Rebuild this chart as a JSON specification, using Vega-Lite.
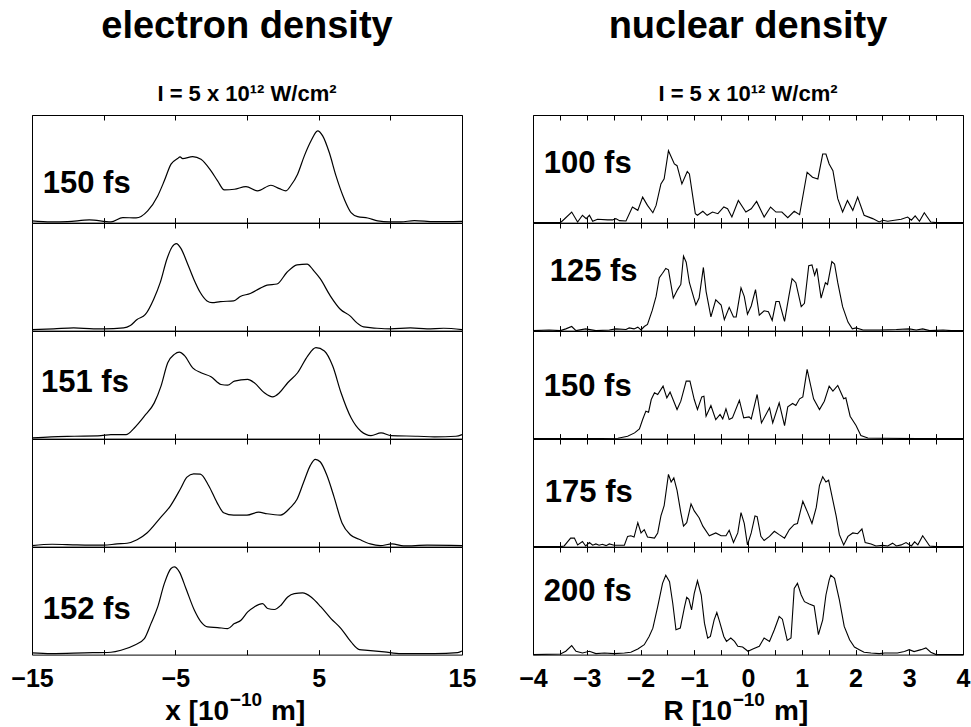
{
  "$schema": "https://vega.github.io/schema/vega-lite/v6.json",
  "padding": {"left": 10, "top": 7, "right": 0, "bottom": 0},
  "background": "white",
  "datasets": {
    "electron": [
      {"row":1,"x":-15,"h":1.6},{"row":1,"x":-13.67,"h":0.6},{"row":1,"x":-12.51,"h":0.9},{"row":1,"x":-11.0,"h":2.5},{"row":1,"x":-9.49,"h":0.6},{"row":1,"x":-8.67,"h":4.7},{"row":1,"x":-7.74,"h":4.3},{"row":1,"x":-6.93,"h":10.9},{"row":1,"x":-6.23,"h":24.8},{"row":1,"x":-5.77,"h":38.8},{"row":1,"x":-5.30,"h":54.3},{"row":1,"x":-4.84,"h":59.5},{"row":1,"x":-4.67,"h":61.1},{"row":1,"x":-4.49,"h":59.5},{"row":1,"x":-3.79,"h":61.4},{"row":1,"x":-3.21,"h":58.9},{"row":1,"x":-2.51,"h":48.1},{"row":1,"x":-2.05,"h":38.8},{"row":1,"x":-1.58,"h":30.4},{"row":1,"x":-0.88,"h":31.0},{"row":1,"x":-0.07,"h":33.5},{"row":1,"x":0.74,"h":29.5},{"row":1,"x":1.67,"h":34.7},{"row":1,"x":2.26,"h":31.6},{"row":1,"x":2.72,"h":29.5},{"row":1,"x":3.07,"h":34.7},{"row":1,"x":3.53,"h":45.0},{"row":1,"x":4.0,"h":62},{"row":1,"x":4.47,"h":76},{"row":1,"x":4.93,"h":85.3},{"row":1,"x":5.28,"h":80.6},{"row":1,"x":5.74,"h":65.1},{"row":1,"x":6.21,"h":43.4},{"row":1,"x":6.79,"h":21.7},{"row":1,"x":7.26,"h":9.3},{"row":1,"x":7.72,"h":5.6},{"row":1,"x":8.42,"h":4.3},{"row":1,"x":9.12,"h":1.6},{"row":1,"x":9.93,"h":0.6},{"row":1,"x":10.74,"h":0.6},{"row":1,"x":11.67,"h":1.9},{"row":1,"x":13.07,"h":0.9},{"row":1,"x":15.0,"h":1.2},
      {"row":2,"x":-15,"h":0.9},{"row":2,"x":-13.49,"h":1.6},{"row":2,"x":-12.09,"h":2.5},{"row":2,"x":-10.70,"h":1.6},{"row":2,"x":-10.0,"h":1.6},{"row":2,"x":-8.60,"h":2.5},{"row":2,"x":-8.14,"h":4.7},{"row":2,"x":-7.67,"h":10.3},{"row":2,"x":-7.09,"h":15},{"row":2,"x":-6.51,"h":29.2},{"row":2,"x":-6.05,"h":44.8},{"row":2,"x":-5.58,"h":66.8},{"row":2,"x":-5.23,"h":77.7},{"row":2,"x":-4.93,"h":80.9},{"row":2,"x":-4.60,"h":76.2},{"row":2,"x":-4.19,"h":63.6},{"row":2,"x":-3.72,"h":48},{"row":2,"x":-3.26,"h":35.4},{"row":2,"x":-2.79,"h":27.6},{"row":2,"x":-2.44,"h":26},{"row":2,"x":-1.86,"h":27},{"row":2,"x":-0.93,"h":27.6},{"row":2,"x":-0.47,"h":31.7},{"row":2,"x":0.23,"h":34.5},{"row":2,"x":0.93,"h":39.5},{"row":2,"x":1.40,"h":42.3},{"row":2,"x":2.09,"h":43.3},{"row":2,"x":2.79,"h":54.2},{"row":2,"x":3.49,"h":61.1},{"row":2,"x":4.19,"h":61.8},{"row":2,"x":4.65,"h":55.8},{"row":2,"x":5.12,"h":48},{"row":2,"x":5.81,"h":32.3},{"row":2,"x":6.51,"h":19.8},{"row":2,"x":7.21,"h":13.5},{"row":2,"x":7.67,"h":7.2},{"row":2,"x":8.14,"h":3.4},{"row":2,"x":9.07,"h":2.2},{"row":2,"x":10.0,"h":1.6},{"row":2,"x":11.40,"h":2.5},{"row":2,"x":12.56,"h":1.6},{"row":2,"x":13.72,"h":2.2},{"row":2,"x":15,"h":0.9},
      {"row":3,"x":-15,"h":0.6},{"row":3,"x":-13.67,"h":1.6},{"row":3,"x":-12.05,"h":2.2},{"row":3,"x":-10.19,"h":2.8},{"row":3,"x":-9.49,"h":3.7},{"row":3,"x":-8.44,"h":3.7},{"row":3,"x":-7.86,"h":9.9},{"row":3,"x":-7.16,"h":20.8},{"row":3,"x":-6.47,"h":33.2},{"row":3,"x":-6.0,"h":48.8},{"row":3,"x":-5.53,"h":70.5},{"row":3,"x":-5.07,"h":78.3},{"row":3,"x":-4.72,"h":80.4},{"row":3,"x":-4.37,"h":77.3},{"row":3,"x":-3.79,"h":65.8},{"row":3,"x":-3.21,"h":61.2},{"row":3,"x":-2.51,"h":57.5},{"row":3,"x":-1.81,"h":50.3},{"row":3,"x":-1.35,"h":49.7},{"row":3,"x":-0.88,"h":53.4},{"row":3,"x":0.05,"h":55},{"row":3,"x":0.51,"h":51.9},{"row":3,"x":1.21,"h":42.6},{"row":3,"x":1.79,"h":38.8},{"row":3,"x":2.26,"h":42.6},{"row":3,"x":2.84,"h":51.9},{"row":3,"x":3.53,"h":61.2},{"row":3,"x":4.23,"h":76.7},{"row":3,"x":4.81,"h":84.5},{"row":3,"x":5.40,"h":81.4},{"row":3,"x":5.98,"h":67.4},{"row":3,"x":6.56,"h":42.6},{"row":3,"x":7.26,"h":19.3},{"row":3,"x":7.95,"h":6.8},{"row":3,"x":8.65,"h":2.8},{"row":3,"x":9.35,"h":5.3},{"row":3,"x":10.05,"h":2.8},{"row":3,"x":11.91,"h":2.2},{"row":3,"x":13.07,"h":1.6},{"row":3,"x":14.58,"h":2.2},{"row":3,"x":15,"h":3.7},
      {"row":4,"x":-15,"h":0.9},{"row":4,"x":-13.6,"h":2.2},{"row":4,"x":-11.86,"h":1.6},{"row":4,"x":-10,"h":1.3},{"row":4,"x":-9.07,"h":2.5},{"row":4,"x":-8.37,"h":3.1},{"row":4,"x":-7.67,"h":6.3},{"row":4,"x":-6.98,"h":12.6},{"row":4,"x":-6.05,"h":26.7},{"row":4,"x":-5.35,"h":37.7},{"row":4,"x":-4.65,"h":53.5},{"row":4,"x":-4.19,"h":64.5},{"row":4,"x":-3.72,"h":67.6},{"row":4,"x":-3.26,"h":67.3},{"row":4,"x":-2.67,"h":56.6},{"row":4,"x":-2.09,"h":40.9},{"row":4,"x":-1.63,"h":31.5},{"row":4,"x":-0.93,"h":29.2},{"row":4,"x":0,"h":29.2},{"row":4,"x":0.81,"h":32},{"row":4,"x":1.40,"h":30.5},{"row":4,"x":2.33,"h":29.2},{"row":4,"x":3.02,"h":36.2},{"row":4,"x":3.49,"h":44},{"row":4,"x":3.95,"h":59.8},{"row":4,"x":4.42,"h":75.5},{"row":4,"x":4.77,"h":81.1},{"row":4,"x":5.12,"h":78.6},{"row":4,"x":5.58,"h":66},{"row":4,"x":6.05,"h":47.2},{"row":4,"x":6.63,"h":22},{"row":4,"x":7.21,"h":11},{"row":4,"x":7.91,"h":6.3},{"row":4,"x":8.60,"h":2.5},{"row":4,"x":9.30,"h":0.9},{"row":4,"x":10.12,"h":2.5},{"row":4,"x":10.93,"h":0.6},{"row":4,"x":12.56,"h":1.3},{"row":4,"x":15,"h":0.9},
      {"row":5,"x":-15,"h":1.6},{"row":5,"x":-13.67,"h":0.9},{"row":5,"x":-11.35,"h":1.6},{"row":5,"x":-9.49,"h":2.2},{"row":5,"x":-8.79,"h":4},{"row":5,"x":-7.86,"h":8.7},{"row":5,"x":-7.16,"h":14.9},{"row":5,"x":-6.70,"h":28.8},{"row":5,"x":-6.23,"h":44.3},{"row":5,"x":-5.77,"h":66},{"row":5,"x":-5.30,"h":80},{"row":5,"x":-5.07,"h":81.5},{"row":5,"x":-4.72,"h":76.9},{"row":5,"x":-4.26,"h":61.4},{"row":5,"x":-3.67,"h":41.2},{"row":5,"x":-3.21,"h":30.4},{"row":5,"x":-2.74,"h":25.7},{"row":5,"x":-2.05,"h":25.1},{"row":5,"x":-1.35,"h":24.2},{"row":5,"x":-0.88,"h":28.8},{"row":5,"x":-0.42,"h":31.9},{"row":5,"x":0.05,"h":39.7},{"row":5,"x":0.51,"h":44.3},{"row":5,"x":1.09,"h":47.4},{"row":5,"x":1.44,"h":42.8},{"row":5,"x":1.91,"h":41.9},{"row":5,"x":2.37,"h":45.9},{"row":5,"x":2.84,"h":53.6},{"row":5,"x":3.30,"h":56.7},{"row":5,"x":3.88,"h":57.4},{"row":5,"x":4.47,"h":53.6},{"row":5,"x":5.16,"h":44.3},{"row":5,"x":5.86,"h":33.5},{"row":5,"x":6.56,"h":24.2},{"row":5,"x":7.26,"h":11.8},{"row":5,"x":7.84,"h":4.7},{"row":5,"x":8.42,"h":4},{"row":5,"x":9.58,"h":2.5},{"row":5,"x":10.74,"h":0.9},{"row":5,"x":13.07,"h":0.9},{"row":5,"x":14.70,"h":1.9},{"row":5,"x":15,"h":3.4}
    ],
    "nuclear": [
      {"row":1,"x":-4,"h":0},{"row":1,"x":-3.49,"h":0},{"row":1,"x":-3.42,"h":3.1},{"row":1,"x":-3.28,"h":9.8},{"row":1,"x":-3.17,"h":0.6},{"row":1,"x":-3.08,"h":6.8},{"row":1,"x":-3.01,"h":3.7},{"row":1,"x":-2.95,"h":6.8},{"row":1,"x":-2.89,"h":1.2},{"row":1,"x":-2.80,"h":3.1},{"row":1,"x":-2.61,"h":2.5},{"row":1,"x":-2.52,"h":2.5},{"row":1,"x":-2.46,"h":3.7},{"row":1,"x":-2.39,"h":1.8},{"row":1,"x":-2.27,"h":1.5},{"row":1,"x":-2.15,"h":14.5},{"row":1,"x":-2.05,"h":11.4},{"row":1,"x":-1.96,"h":23.7},{"row":1,"x":-1.87,"h":16},{"row":1,"x":-1.77,"h":9.2},{"row":1,"x":-1.71,"h":16},{"row":1,"x":-1.62,"h":36},{"row":1,"x":-1.56,"h":40.6},{"row":1,"x":-1.48,"h":66.8},{"row":1,"x":-1.37,"h":54.5},{"row":1,"x":-1.32,"h":52.9},{"row":1,"x":-1.23,"h":36},{"row":1,"x":-1.13,"h":47.4},{"row":1,"x":-1.09,"h":45.2},{"row":1,"x":-0.98,"h":8.3},{"row":1,"x":-0.94,"h":6.8},{"row":1,"x":-0.84,"h":10.5},{"row":1,"x":-0.76,"h":6.8},{"row":1,"x":-0.66,"h":9.8},{"row":1,"x":-0.56,"h":8.3},{"row":1,"x":-0.45,"h":14.5},{"row":1,"x":-0.38,"h":12.9},{"row":1,"x":-0.30,"h":5.2},{"row":1,"x":-0.18,"h":20.6},{"row":1,"x":-0.04,"h":9.8},{"row":1,"x":0.06,"h":12.9},{"row":1,"x":0.16,"h":19.7},{"row":1,"x":0.30,"h":5.2},{"row":1,"x":0.42,"h":14.5},{"row":1,"x":0.52,"h":9.8},{"row":1,"x":0.63,"h":9.8},{"row":1,"x":0.74,"h":4.6},{"row":1,"x":0.86,"h":10.5},{"row":1,"x":0.96,"h":7.4},{"row":1,"x":1.10,"h":46.8},{"row":1,"x":1.20,"h":42.2},{"row":1,"x":1.30,"h":40.6},{"row":1,"x":1.39,"h":63.7},{"row":1,"x":1.45,"h":63.7},{"row":1,"x":1.51,"h":54.5},{"row":1,"x":1.58,"h":48.3},{"row":1,"x":1.67,"h":22.2},{"row":1,"x":1.76,"h":9.8},{"row":1,"x":1.85,"h":20.6},{"row":1,"x":1.95,"h":11.4},{"row":1,"x":2.04,"h":23.7},{"row":1,"x":2.16,"h":6.8},{"row":1,"x":2.32,"h":3.7},{"row":1,"x":2.44,"h":0.6},{"row":1,"x":2.51,"h":2.2},{"row":1,"x":2.60,"h":1.2},{"row":1,"x":2.85,"h":3.1},{"row":1,"x":2.97,"h":5.2},{"row":1,"x":3.04,"h":2.2},{"row":1,"x":3.11,"h":6.2},{"row":1,"x":3.19,"h":1.2},{"row":1,"x":3.28,"h":9.2},{"row":1,"x":3.40,"h":0.6},{"row":1,"x":3.50,"h":0},{"row":1,"x":4,"h":0},
      {"row":2,"x":-4,"h":0},{"row":2,"x":-3.70,"h":0.6},{"row":2,"x":-3.49,"h":0},{"row":2,"x":-3.39,"h":1.6},{"row":2,"x":-3.28,"h":3.8},{"row":2,"x":-3.20,"h":0},{"row":2,"x":-3.02,"h":1.6},{"row":2,"x":-2.83,"h":0},{"row":2,"x":-2.58,"h":0.6},{"row":2,"x":-2.46,"h":1.6},{"row":2,"x":-2.27,"h":1.0},{"row":2,"x":-2.21,"h":2.5},{"row":2,"x":-2.12,"h":1.6},{"row":2,"x":-2.05,"h":3.2},{"row":2,"x":-1.99,"h":0.6},{"row":2,"x":-1.93,"h":3.8},{"row":2,"x":-1.87,"h":5.7},{"row":2,"x":-1.78,"h":19},{"row":2,"x":-1.71,"h":31.8},{"row":2,"x":-1.65,"h":49.2},{"row":2,"x":-1.59,"h":53.3},{"row":2,"x":-1.53,"h":57.8},{"row":2,"x":-1.48,"h":56.5},{"row":2,"x":-1.39,"h":30.2},{"row":2,"x":-1.31,"h":38.1},{"row":2,"x":-1.25,"h":42.9},{"row":2,"x":-1.20,"h":69.2},{"row":2,"x":-1.15,"h":63.5},{"row":2,"x":-1.09,"h":44.5},{"row":2,"x":-0.97,"h":23.8},{"row":2,"x":-0.91,"h":30.2},{"row":2,"x":-0.83,"h":58.7},{"row":2,"x":-0.78,"h":36.5},{"row":2,"x":-0.69,"h":12.7},{"row":2,"x":-0.60,"h":28.6},{"row":2,"x":-0.50,"h":23.8},{"row":2,"x":-0.44,"h":10.2},{"row":2,"x":-0.35,"h":21.6},{"row":2,"x":-0.27,"h":12.7},{"row":2,"x":-0.22,"h":12.7},{"row":2,"x":-0.13,"h":39.7},{"row":2,"x":-0.07,"h":31.8},{"row":2,"x":-0.01,"h":15.2},{"row":2,"x":0.06,"h":22.9},{"row":2,"x":0.14,"h":38.1},{"row":2,"x":0.21,"h":14.3},{"row":2,"x":0.30,"h":18.4},{"row":2,"x":0.38,"h":17.5},{"row":2,"x":0.45,"h":9.5},{"row":2,"x":0.52,"h":27},{"row":2,"x":0.58,"h":27},{"row":2,"x":0.68,"h":8.6},{"row":2,"x":0.76,"h":31.8},{"row":2,"x":0.82,"h":48.3},{"row":2,"x":0.89,"h":44.5},{"row":2,"x":0.99,"h":22.2},{"row":2,"x":1.05,"h":25.4},{"row":2,"x":1.13,"h":60.3},{"row":2,"x":1.19,"h":61},{"row":2,"x":1.24,"h":51.4},{"row":2,"x":1.28,"h":57.8},{"row":2,"x":1.36,"h":30.2},{"row":2,"x":1.44,"h":44.5},{"row":2,"x":1.48,"h":42.9},{"row":2,"x":1.56,"h":64.1},{"row":2,"x":1.61,"h":61.9},{"row":2,"x":1.67,"h":44.5},{"row":2,"x":1.76,"h":22.2},{"row":2,"x":1.86,"h":7.9},{"row":2,"x":1.94,"h":1.6},{"row":2,"x":2.01,"h":2.5},{"row":2,"x":2.14,"h":0.6},{"row":2,"x":2.45,"h":0.6},{"row":2,"x":2.76,"h":1.0},{"row":2,"x":3.0,"h":1.6},{"row":2,"x":3.13,"h":0.6},{"row":2,"x":3.25,"h":1.6},{"row":2,"x":3.38,"h":0},{"row":2,"x":3.63,"h":0.6},{"row":2,"x":3.78,"h":0},{"row":2,"x":4,"h":0},
      {"row":3,"x":-4,"h":0},{"row":3,"x":-3.04,"h":0},{"row":3,"x":-2.42,"h":0.3},{"row":3,"x":-2.24,"h":2.2},{"row":3,"x":-2.11,"h":5.3},{"row":3,"x":-2.02,"h":9.0},{"row":3,"x":-1.96,"h":17.7},{"row":3,"x":-1.90,"h":25.5},{"row":3,"x":-1.85,"h":24.5},{"row":3,"x":-1.80,"h":36.3},{"row":3,"x":-1.74,"h":42.6},{"row":3,"x":-1.68,"h":41},{"row":3,"x":-1.58,"h":48.8},{"row":3,"x":-1.51,"h":37.9},{"row":3,"x":-1.45,"h":43.2},{"row":3,"x":-1.32,"h":27},{"row":3,"x":-1.25,"h":34.8},{"row":3,"x":-1.15,"h":53.4},{"row":3,"x":-1.08,"h":53.4},{"row":3,"x":-1.0,"h":36.3},{"row":3,"x":-0.94,"h":27},{"row":3,"x":-0.86,"h":38.8},{"row":3,"x":-0.82,"h":39.4},{"row":3,"x":-0.78,"h":20.8},{"row":3,"x":-0.69,"h":30.7},{"row":3,"x":-0.60,"h":17.7},{"row":3,"x":-0.52,"h":22.4},{"row":3,"x":-0.47,"h":18.3},{"row":3,"x":-0.41,"h":27.6},{"row":3,"x":-0.35,"h":17.7},{"row":3,"x":-0.29,"h":19.3},{"row":3,"x":-0.16,"h":35.7},{"row":3,"x":-0.08,"h":19.3},{"row":3,"x":0.02,"h":20.2},{"row":3,"x":0.06,"h":18.3},{"row":3,"x":0.17,"h":41},{"row":3,"x":0.25,"h":14.6},{"row":3,"x":0.40,"h":28.6},{"row":3,"x":0.46,"h":14.6},{"row":3,"x":0.58,"h":33.2},{"row":3,"x":0.68,"h":12.1},{"row":3,"x":0.74,"h":29.5},{"row":3,"x":0.83,"h":32.6},{"row":3,"x":0.89,"h":30.7},{"row":3,"x":0.96,"h":37},{"row":3,"x":1.02,"h":38.8},{"row":3,"x":1.10,"h":64.3},{"row":3,"x":1.22,"h":37},{"row":3,"x":1.33,"h":27},{"row":3,"x":1.42,"h":34.8},{"row":3,"x":1.51,"h":48.8},{"row":3,"x":1.58,"h":44.1},{"row":3,"x":1.67,"h":49.4},{"row":3,"x":1.78,"h":37},{"row":3,"x":1.82,"h":37.9},{"row":3,"x":1.90,"h":20.8},{"row":3,"x":2.01,"h":12.1},{"row":3,"x":2.10,"h":2.8},{"row":3,"x":2.23,"h":0.6},{"row":3,"x":2.54,"h":0.3},{"row":3,"x":3.16,"h":0},{"row":3,"x":4,"h":0},
      {"row":4,"x":-4,"h":0},{"row":4,"x":-3.49,"h":0},{"row":4,"x":-3.42,"h":0.6},{"row":4,"x":-3.30,"h":7.9},{"row":4,"x":-3.23,"h":7.9},{"row":4,"x":-3.17,"h":1.6},{"row":4,"x":-3.08,"h":4.7},{"row":4,"x":-3.02,"h":0.6},{"row":4,"x":-2.95,"h":3.8},{"row":4,"x":-2.89,"h":1.3},{"row":4,"x":-2.83,"h":2.5},{"row":4,"x":-2.77,"h":1.3},{"row":4,"x":-2.71,"h":2.2},{"row":4,"x":-2.64,"h":0.9},{"row":4,"x":-2.58,"h":2.5},{"row":4,"x":-2.49,"h":1.3},{"row":4,"x":-2.40,"h":1.3},{"row":4,"x":-2.30,"h":1.3},{"row":4,"x":-2.24,"h":9.5},{"row":4,"x":-2.18,"h":10.1},{"row":4,"x":-2.12,"h":8.9},{"row":4,"x":-2.05,"h":22.2},{"row":4,"x":-1.99,"h":12.7},{"row":4,"x":-1.93,"h":15.8},{"row":4,"x":-1.87,"h":8.9},{"row":4,"x":-1.74,"h":7.9},{"row":4,"x":-1.68,"h":12.7},{"row":4,"x":-1.62,"h":28.5},{"row":4,"x":-1.56,"h":38},{"row":4,"x":-1.48,"h":67.1},{"row":4,"x":-1.43,"h":60.1},{"row":4,"x":-1.38,"h":63.9},{"row":4,"x":-1.32,"h":52.2},{"row":4,"x":-1.25,"h":31.6},{"row":4,"x":-1.20,"h":19},{"row":4,"x":-1.14,"h":22.2},{"row":4,"x":-1.06,"h":39.6},{"row":4,"x":-1.0,"h":33.2},{"row":4,"x":-0.91,"h":26.9},{"row":4,"x":-0.84,"h":19},{"row":4,"x":-0.72,"h":10.1},{"row":4,"x":-0.60,"h":12.7},{"row":4,"x":-0.50,"h":10.1},{"row":4,"x":-0.41,"h":10.1},{"row":4,"x":-0.35,"h":15.2},{"row":4,"x":-0.27,"h":3.8},{"row":4,"x":-0.19,"h":12.7},{"row":4,"x":-0.13,"h":31.6},{"row":4,"x":-0.07,"h":21.5},{"row":4,"x":-0.01,"h":1.6},{"row":4,"x":0.06,"h":12.7},{"row":4,"x":0.13,"h":28.5},{"row":4,"x":0.17,"h":27.9},{"row":4,"x":0.24,"h":9.5},{"row":4,"x":0.30,"h":5.7},{"row":4,"x":0.40,"h":9.5},{"row":4,"x":0.49,"h":14.2},{"row":4,"x":0.58,"h":11.1},{"row":4,"x":0.68,"h":7.9},{"row":4,"x":0.77,"h":15.8},{"row":4,"x":0.86,"h":20.6},{"row":4,"x":0.92,"h":21.5},{"row":4,"x":1.02,"h":42.1},{"row":4,"x":1.11,"h":31.6},{"row":4,"x":1.19,"h":21.5},{"row":4,"x":1.27,"h":36.4},{"row":4,"x":1.33,"h":57},{"row":4,"x":1.39,"h":64.9},{"row":4,"x":1.45,"h":60.1},{"row":4,"x":1.50,"h":61.7},{"row":4,"x":1.58,"h":42.7},{"row":4,"x":1.64,"h":28.5},{"row":4,"x":1.70,"h":11.1},{"row":4,"x":1.78,"h":1.6},{"row":4,"x":1.86,"h":9.5},{"row":4,"x":1.95,"h":12.7},{"row":4,"x":2.04,"h":12.0},{"row":4,"x":2.12,"h":16.5},{"row":4,"x":2.18,"h":3.8},{"row":4,"x":2.29,"h":2.5},{"row":4,"x":2.38,"h":0.6},{"row":4,"x":2.51,"h":1.3},{"row":4,"x":2.60,"h":0.6},{"row":4,"x":2.69,"h":3.2},{"row":4,"x":2.76,"h":0.6},{"row":4,"x":2.85,"h":1.6},{"row":4,"x":2.94,"h":3.8},{"row":4,"x":3.04,"h":0.6},{"row":4,"x":3.10,"h":4.4},{"row":4,"x":3.16,"h":1.6},{"row":4,"x":3.25,"h":10.1},{"row":4,"x":3.38,"h":0.6},{"row":4,"x":3.50,"h":0},{"row":4,"x":4,"h":0},
      {"row":5,"x":-4,"h":0},{"row":5,"x":-3.49,"h":0.6},{"row":5,"x":-3.39,"h":3.1},{"row":5,"x":-3.28,"h":8.3},{"row":5,"x":-3.20,"h":3.1},{"row":5,"x":-3.08,"h":1.5},{"row":5,"x":-2.95,"h":3.1},{"row":5,"x":-2.83,"h":0.9},{"row":5,"x":-2.67,"h":1.5},{"row":5,"x":-2.49,"h":0.9},{"row":5,"x":-2.30,"h":1.5},{"row":5,"x":-2.18,"h":2.2},{"row":5,"x":-2.05,"h":5.2},{"row":5,"x":-1.93,"h":9.2},{"row":5,"x":-1.84,"h":16.9},{"row":5,"x":-1.77,"h":24.6},{"row":5,"x":-1.68,"h":44.6},{"row":5,"x":-1.59,"h":66.2},{"row":5,"x":-1.53,"h":73.8},{"row":5,"x":-1.46,"h":67.7},{"row":5,"x":-1.40,"h":47.7},{"row":5,"x":-1.34,"h":23.1},{"row":5,"x":-1.26,"h":24.6},{"row":5,"x":-1.18,"h":44.6},{"row":5,"x":-1.14,"h":53.2},{"row":5,"x":-1.10,"h":51.4},{"row":5,"x":-1.05,"h":41.5},{"row":5,"x":-1.0,"h":56.9},{"row":5,"x":-0.94,"h":68.6},{"row":5,"x":-0.87,"h":55.4},{"row":5,"x":-0.81,"h":29.2},{"row":5,"x":-0.75,"h":15.4},{"row":5,"x":-0.70,"h":16.9},{"row":5,"x":-0.63,"h":32.3},{"row":5,"x":-0.58,"h":39.1},{"row":5,"x":-0.53,"h":30.8},{"row":5,"x":-0.45,"h":16.9},{"row":5,"x":-0.40,"h":12.3},{"row":5,"x":-0.32,"h":15.4},{"row":5,"x":-0.25,"h":12.3},{"row":5,"x":-0.19,"h":7.7},{"row":5,"x":-0.10,"h":7.1},{"row":5,"x":0,"h":3.1},{"row":5,"x":0.09,"h":5.2},{"row":5,"x":0.21,"h":7.7},{"row":5,"x":0.30,"h":15.4},{"row":5,"x":0.40,"h":12.3},{"row":5,"x":0.49,"h":23.1},{"row":5,"x":0.58,"h":35.4},{"row":5,"x":0.64,"h":32.9},{"row":5,"x":0.73,"h":13.2},{"row":5,"x":0.80,"h":15.4},{"row":5,"x":0.86,"h":61.5},{"row":5,"x":0.92,"h":66.2},{"row":5,"x":0.99,"h":55.4},{"row":5,"x":1.05,"h":49.2},{"row":5,"x":1.14,"h":47.1},{"row":5,"x":1.23,"h":45.2},{"row":5,"x":1.31,"h":18.5},{"row":5,"x":1.39,"h":32.3},{"row":5,"x":1.45,"h":55.4},{"row":5,"x":1.51,"h":69.2},{"row":5,"x":1.54,"h":73.8},{"row":5,"x":1.61,"h":70.8},{"row":5,"x":1.70,"h":50.8},{"row":5,"x":1.79,"h":26.2},{"row":5,"x":1.89,"h":13.8},{"row":5,"x":1.98,"h":7.1},{"row":5,"x":2.07,"h":4.6},{"row":5,"x":2.16,"h":2.2},{"row":5,"x":2.29,"h":1.5},{"row":5,"x":2.44,"h":0.9},{"row":5,"x":2.54,"h":1.5},{"row":5,"x":2.78,"h":1.5},{"row":5,"x":2.91,"h":2.8},{"row":5,"x":3.0,"h":4.6},{"row":5,"x":3.09,"h":2.8},{"row":5,"x":3.22,"h":4.6},{"row":5,"x":3.31,"h":6.2},{"row":5,"x":3.40,"h":2.2},{"row":5,"x":3.50,"h":0},{"row":5,"x":4,"h":0}
    ],
    "labels": [
      {"col":"e","row":1,"label":"150 fs"},
      {"col":"e","row":3,"label":"151 fs"},
      {"col":"e","row":5,"label":"152 fs"},
      {"col":"n","row":1,"label":"100 fs"},
      {"col":"n","row":2,"label":"125 fs"},
      {"col":"n","row":3,"label":"150 fs"},
      {"col":"n","row":4,"label":"175 fs"},
      {"col":"n","row":5,"label":"200 fs"}
    ],
    "axisTitles": [
      {"col":"e","part":"base","text":"x [10"},
      {"col":"e","part":"sup","text":"−10"},
      {"col":"e","part":"tail","text":"m]"},
      {"col":"n","part":"base","text":"R [10"},
      {"col":"n","part":"sup","text":"−10"},
      {"col":"n","part":"tail","text":"m]"}
    ]
  },
  "hconcat": [
    {
      "spacing": 0,
      "bounds": "flush",
      "vconcat": [
        {"width": 430, "height": 107.6, "title": {"text": "electron density", "subtitle": "I = 5 x 10¹² W/cm²", "anchor": "middle"}, "resolve": {"axis": {"x": "independent"}}, "layer": [
          {"data": {"name": "electron"}, "transform": [{"filter": "datum.row == 1"}], "mark": {"type": "line", "interpolate": "monotone"},
           "encoding": {"x": {"field": "x", "type": "quantitative", "scale": {"domain": [-15, 15], "nice": false}, "axis": {"orient": "bottom", "values": [-15,-10,-5,0,5,10,15], "labels": false, "title": null}},
                        "y": {"field": "h", "type": "quantitative", "scale": {"domain": [0, 100]}, "axis": null}}},
          {"data": {"name": "labels"}, "transform": [{"filter": "datum.col == 'e' && datum.row == 1"}], "mark": "text",
           "encoding": {"x": {"datum": -14.25, "type": "quantitative", "axis": {"orient": "top", "values": [-15,-10,-5,0,5,10,15], "labels": false, "title": null}},
                        "y": {"datum": 27.9, "type": "quantitative"}, "text": {"field": "label"}}}
        ]},
        {"width": 430, "height": 107.6, "resolve": {"axis": {"x": "independent"}}, "layer": [
          {"data": {"name": "electron"}, "transform": [{"filter": "datum.row == 2"}], "mark": {"type": "line", "interpolate": "monotone"},
           "encoding": {"x": {"field": "x", "type": "quantitative", "scale": {"domain": [-15, 15], "nice": false}, "axis": {"orient": "bottom", "values": [-15,-10,-5,0,5,10,15], "labels": false, "title": null}},
                        "y": {"field": "h", "type": "quantitative", "scale": {"domain": [0, 100]}, "axis": null}}},
          {"data": {"name": "labels"}, "transform": [{"filter": "datum.col == 'e' && datum.row == 2"}], "mark": "text",
           "encoding": {"x": {"datum": -14.25, "type": "quantitative", "axis": {"orient": "top", "values": [-15,-10,-5,0,5,10,15], "labels": false, "title": null}},
                        "y": {"datum": 30, "type": "quantitative"}, "text": {"field": "label"}}}
        ]},
        {"width": 430, "height": 107.6, "resolve": {"axis": {"x": "independent"}}, "layer": [
          {"data": {"name": "electron"}, "transform": [{"filter": "datum.row == 3"}], "mark": {"type": "line", "interpolate": "monotone"},
           "encoding": {"x": {"field": "x", "type": "quantitative", "scale": {"domain": [-15, 15], "nice": false}, "axis": {"orient": "bottom", "values": [-15,-10,-5,0,5,10,15], "labels": false, "title": null}},
                        "y": {"field": "h", "type": "quantitative", "scale": {"domain": [0, 100]}, "axis": null}}},
          {"data": {"name": "labels"}, "transform": [{"filter": "datum.col == 'e' && datum.row == 3"}], "mark": "text",
           "encoding": {"x": {"datum": -14.37, "type": "quantitative", "axis": {"orient": "top", "values": [-15,-10,-5,0,5,10,15], "labels": false, "title": null}},
                        "y": {"datum": 43, "type": "quantitative"}, "text": {"field": "label"}}}
        ]},
        {"width": 430, "height": 107.6, "resolve": {"axis": {"x": "independent"}}, "layer": [
          {"data": {"name": "electron"}, "transform": [{"filter": "datum.row == 4"}], "mark": {"type": "line", "interpolate": "monotone"},
           "encoding": {"x": {"field": "x", "type": "quantitative", "scale": {"domain": [-15, 15], "nice": false}, "axis": {"orient": "bottom", "values": [-15,-10,-5,0,5,10,15], "labels": false, "title": null}},
                        "y": {"field": "h", "type": "quantitative", "scale": {"domain": [0, 100]}, "axis": null}}},
          {"data": {"name": "labels"}, "transform": [{"filter": "datum.col == 'e' && datum.row == 4"}], "mark": "text",
           "encoding": {"x": {"datum": -14.25, "type": "quantitative", "axis": {"orient": "top", "values": [-15,-10,-5,0,5,10,15], "labels": false, "title": null}},
                        "y": {"datum": 30, "type": "quantitative"}, "text": {"field": "label"}}}
        ]},
        {"width": 430, "height": 107.6, "resolve": {"axis": {"x": "independent"}}, "layer": [
          {"data": {"name": "electron"}, "transform": [{"filter": "datum.row == 5"}], "mark": {"type": "line", "interpolate": "monotone"},
           "encoding": {"x": {"field": "x", "type": "quantitative", "scale": {"domain": [-15, 15], "nice": false}, "axis": {"orient": "bottom", "values": [-15,-10,-5,0,5,10,15], "format": "d", "labelExpr": "abs(datum.value) % 10 == 5 ? datum.label : ''", "title": null}},
                        "y": {"field": "h", "type": "quantitative", "scale": {"domain": [0, 100]}, "axis": null}}},
          {"data": {"name": "labels"}, "transform": [{"filter": "datum.col == 'e' && datum.row == 5"}], "mark": "text",
           "encoding": {"x": {"datum": -14.25, "type": "quantitative", "axis": {"orient": "top", "values": [-15,-10,-5,0,5,10,15], "labels": false, "title": null}},
                        "y": {"datum": 33.2, "type": "quantitative"}, "text": {"field": "label"}}},
          {"data": {"name": "axisTitles"}, "transform": [{"filter": "datum.col == 'e' && datum.part == 'base'"}], "mark": {"type": "text", "align": "right", "fontSize": 28},
           "encoding": {"x": {"datum": -1.25, "type": "quantitative", "axis": {"ticks": false, "labels": false, "domain": false, "title": null}}, "y": {"datum": -60.4, "type": "quantitative"}, "text": {"field": "text"}}},
          {"data": {"name": "axisTitles"}, "transform": [{"filter": "datum.col == 'e' && datum.part == 'sup'"}], "mark": {"type": "text", "align": "left", "fontSize": 19},
           "encoding": {"x": {"datum": -1.2, "type": "quantitative", "axis": {"ticks": false, "labels": false, "domain": false, "title": null}}, "y": {"datum": -48, "type": "quantitative"}, "text": {"field": "text"}}},
          {"data": {"name": "axisTitles"}, "transform": [{"filter": "datum.col == 'e' && datum.part == 'tail'"}], "mark": {"type": "text", "align": "left", "fontSize": 28},
           "encoding": {"x": {"datum": 1.675, "type": "quantitative", "axis": {"ticks": false, "labels": false, "domain": false, "title": null}}, "y": {"datum": -60.4, "type": "quantitative"}, "text": {"field": "text"}}}
        ]}
      ]
    },
    {
      "spacing": 0,
      "bounds": "flush",
      "vconcat": [
        {"width": 430, "height": 107.6, "title": {"text": "nuclear density", "subtitle": "I = 5 x 10¹² W/cm²", "anchor": "middle"}, "resolve": {"axis": {"x": "independent"}}, "layer": [
          {"data": {"name": "nuclear"}, "transform": [{"filter": "datum.row == 1"}], "mark": {"type": "line", "strokeWidth": 1.1},
           "encoding": {"x": {"field": "x", "type": "quantitative", "scale": {"domain": [-4, 4], "nice": false}, "axis": {"orient": "bottom", "values": [-4,-3.5,-3,-2.5,-2,-1.5,-1,-0.5,0,0.5,1,1.5,2,2.5,3,3.5,4], "labels": false, "title": null}},
                        "y": {"field": "h", "type": "quantitative", "scale": {"domain": [0, 100]}, "axis": null}}},
          {"data": {"name": "labels"}, "transform": [{"filter": "datum.col == 'n' && datum.row == 1"}], "mark": "text",
           "encoding": {"x": {"datum": -3.8, "type": "quantitative", "axis": {"orient": "top", "values": [-4,-3.5,-3,-2.5,-2,-1.5,-1,-0.5,0,0.5,1,1.5,2,2.5,3,3.5,4], "labels": false, "title": null}},
                        "y": {"datum": 46.5, "type": "quantitative"}, "text": {"field": "label"}}}
        ]},
        {"width": 430, "height": 107.6, "resolve": {"axis": {"x": "independent"}}, "layer": [
          {"data": {"name": "nuclear"}, "transform": [{"filter": "datum.row == 2"}], "mark": {"type": "line", "strokeWidth": 1.1},
           "encoding": {"x": {"field": "x", "type": "quantitative", "scale": {"domain": [-4, 4], "nice": false}, "axis": {"orient": "bottom", "values": [-4,-3.5,-3,-2.5,-2,-1.5,-1,-0.5,0,0.5,1,1.5,2,2.5,3,3.5,4], "labels": false, "title": null}},
                        "y": {"field": "h", "type": "quantitative", "scale": {"domain": [0, 100]}, "axis": null}}},
          {"data": {"name": "labels"}, "transform": [{"filter": "datum.col == 'n' && datum.row == 2"}], "mark": "text",
           "encoding": {"x": {"datum": -3.69, "type": "quantitative", "axis": {"orient": "top", "values": [-4,-3.5,-3,-2.5,-2,-1.5,-1,-0.5,0,0.5,1,1.5,2,2.5,3,3.5,4], "labels": false, "title": null}},
                        "y": {"datum": 46.5, "type": "quantitative"}, "text": {"field": "label"}}}
        ]},
        {"width": 430, "height": 107.6, "resolve": {"axis": {"x": "independent"}}, "layer": [
          {"data": {"name": "nuclear"}, "transform": [{"filter": "datum.row == 3"}], "mark": {"type": "line", "strokeWidth": 1.1},
           "encoding": {"x": {"field": "x", "type": "quantitative", "scale": {"domain": [-4, 4], "nice": false}, "axis": {"orient": "bottom", "values": [-4,-3.5,-3,-2.5,-2,-1.5,-1,-0.5,0,0.5,1,1.5,2,2.5,3,3.5,4], "labels": false, "title": null}},
                        "y": {"field": "h", "type": "quantitative", "scale": {"domain": [0, 100]}, "axis": null}}},
          {"data": {"name": "labels"}, "transform": [{"filter": "datum.col == 'n' && datum.row == 3"}], "mark": "text",
           "encoding": {"x": {"datum": -3.8, "type": "quantitative", "axis": {"orient": "top", "values": [-4,-3.5,-3,-2.5,-2,-1.5,-1,-0.5,0,0.5,1,1.5,2,2.5,3,3.5,4], "labels": false, "title": null}},
                        "y": {"datum": 40, "type": "quantitative"}, "text": {"field": "label"}}}
        ]},
        {"width": 430, "height": 107.6, "resolve": {"axis": {"x": "independent"}}, "layer": [
          {"data": {"name": "nuclear"}, "transform": [{"filter": "datum.row == 4"}], "mark": {"type": "line", "strokeWidth": 1.1},
           "encoding": {"x": {"field": "x", "type": "quantitative", "scale": {"domain": [-4, 4], "nice": false}, "axis": {"orient": "bottom", "values": [-4,-3.5,-3,-2.5,-2,-1.5,-1,-0.5,0,0.5,1,1.5,2,2.5,3,3.5,4], "labels": false, "title": null}},
                        "y": {"field": "h", "type": "quantitative", "scale": {"domain": [0, 100]}, "axis": null}}},
          {"data": {"name": "labels"}, "transform": [{"filter": "datum.col == 'n' && datum.row == 4"}], "mark": "text",
           "encoding": {"x": {"datum": -3.78, "type": "quantitative", "axis": {"orient": "top", "values": [-4,-3.5,-3,-2.5,-2,-1.5,-1,-0.5,0,0.5,1,1.5,2,2.5,3,3.5,4], "labels": false, "title": null}},
                        "y": {"datum": 41.8, "type": "quantitative"}, "text": {"field": "label"}}}
        ]},
        {"width": 430, "height": 107.6, "resolve": {"axis": {"x": "independent"}}, "layer": [
          {"data": {"name": "nuclear"}, "transform": [{"filter": "datum.row == 5"}], "mark": {"type": "line", "strokeWidth": 1.1},
           "encoding": {"x": {"field": "x", "type": "quantitative", "scale": {"domain": [-4, 4], "nice": false}, "axis": {"orient": "bottom", "values": [-4,-3.5,-3,-2.5,-2,-1.5,-1,-0.5,0,0.5,1,1.5,2,2.5,3,3.5,4], "format": ".0f", "labelExpr": "datum.value % 1 == 0 ? datum.label : ''", "title": null}},
                        "y": {"field": "h", "type": "quantitative", "scale": {"domain": [0, 100]}, "axis": null}}},
          {"data": {"name": "labels"}, "transform": [{"filter": "datum.col == 'n' && datum.row == 5"}], "mark": "text",
           "encoding": {"x": {"datum": -3.8, "type": "quantitative", "axis": {"orient": "top", "values": [-4,-3.5,-3,-2.5,-2,-1.5,-1,-0.5,0,0.5,1,1.5,2,2.5,3,3.5,4], "labels": false, "title": null}},
                        "y": {"datum": 49.5, "type": "quantitative"}, "text": {"field": "label"}}},
          {"data": {"name": "axisTitles"}, "transform": [{"filter": "datum.col == 'n' && datum.part == 'base'"}], "mark": {"type": "text", "align": "right", "fontSize": 28},
           "encoding": {"x": {"datum": -0.298, "type": "quantitative", "axis": {"ticks": false, "labels": false, "domain": false, "title": null}}, "y": {"datum": -60.4, "type": "quantitative"}, "text": {"field": "text"}}},
          {"data": {"name": "axisTitles"}, "transform": [{"filter": "datum.col == 'n' && datum.part == 'sup'"}], "mark": {"type": "text", "align": "left", "fontSize": 19},
           "encoding": {"x": {"datum": -0.285, "type": "quantitative", "axis": {"ticks": false, "labels": false, "domain": false, "title": null}}, "y": {"datum": -48, "type": "quantitative"}, "text": {"field": "text"}}},
          {"data": {"name": "axisTitles"}, "transform": [{"filter": "datum.col == 'n' && datum.part == 'tail'"}], "mark": {"type": "text", "align": "left", "fontSize": 28},
           "encoding": {"x": {"datum": 0.484, "type": "quantitative", "axis": {"ticks": false, "labels": false, "domain": false, "title": null}}, "y": {"datum": -60.4, "type": "quantitative"}, "text": {"field": "text"}}}
        ]}
      ]
    }
  ],
  "spacing": 41,
  "config": {
    "view": {"stroke": "black", "strokeWidth": 1},
    "axis": {"domain": false, "grid": false, "tickSize": -5, "tickColor": "black", "tickWidth": 1,
             "labelFont": "Liberation Sans", "labelFontSize": 25, "labelFontWeight": "bold", "labelColor": "black",
             "labelPadding": 17, "labelFlush": false, "labelOverlap": false, "labelBound": false},
    "line": {"color": "black", "strokeWidth": 1.2},
    "text": {"font": "Liberation Sans", "fontSize": 31, "fontWeight": "bold", "align": "left", "baseline": "alphabetic", "color": "black"},
    "title": {"font": "Liberation Sans", "fontSize": 38, "fontWeight": "bold", "color": "black",
              "subtitleFont": "Liberation Sans", "subtitleFontSize": 22, "subtitleFontWeight": "bold", "subtitleColor": "black",
              "offset": 10, "subtitlePadding": 38}
  }
}
